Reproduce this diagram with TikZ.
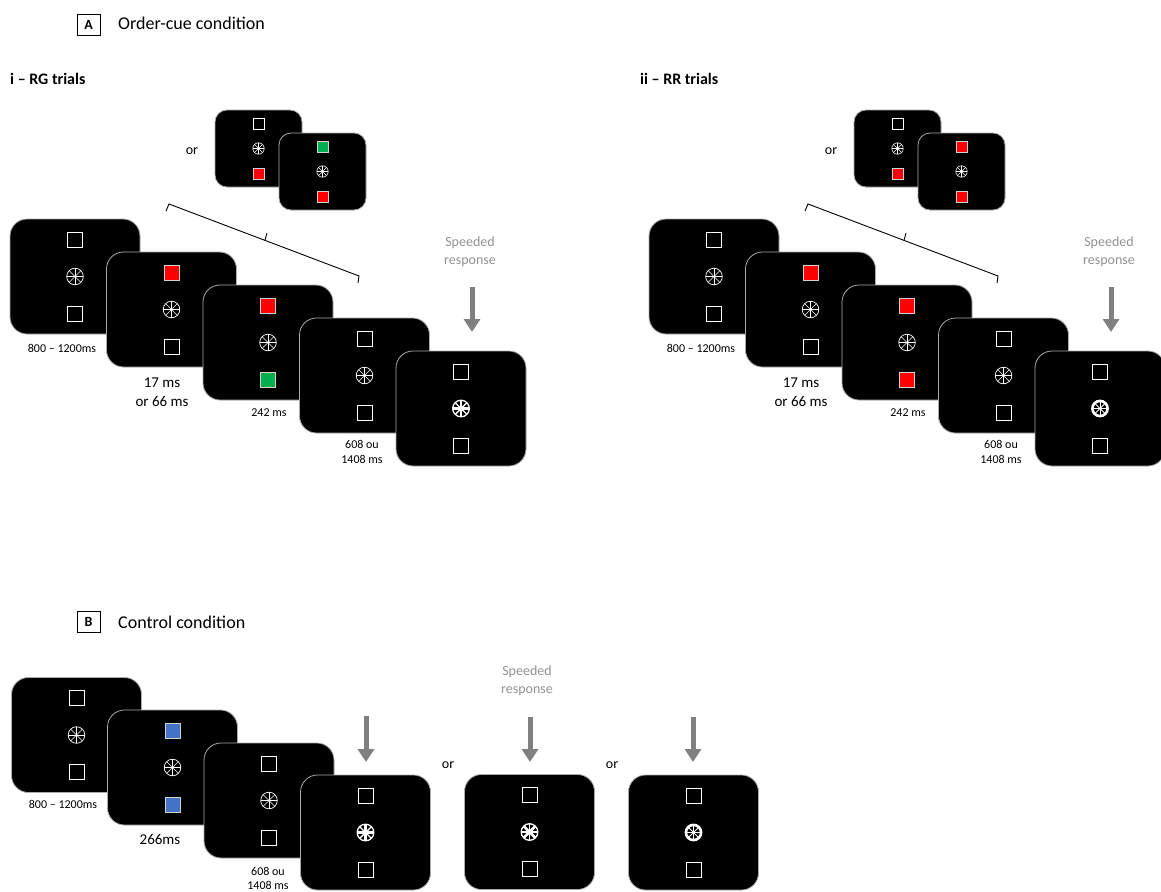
\documentclass[tikz,border=0pt]{standalone}
\usepackage{fontspec}
\setmainfont{Carlito}
\usetikzlibrary{arrows.meta}
\definecolor{cred}{RGB}{255,0,0}
\definecolor{cgreen}{RGB}{0,176,80}
\definecolor{cblue}{RGB}{68,114,196}
\definecolor{agray}{RGB}{128,128,128}
\definecolor{tgray}{RGB}{145,145,145}
\definecolor{edge}{RGB}{170,170,170}
\tikzset{
  bigscreen/.style={fill=black, draw=edge, line width=0.8pt, rounded corners=17pt,
    minimum width=130pt, minimum height=115pt, inner sep=0pt},
  smallscreen/.style={fill=black, draw=edge, line width=0.8pt, rounded corners=12pt,
    minimum width=87pt, minimum height=77pt, inner sep=0pt},
  sq/.style={draw=white, fill=black, line width=0.8pt, inner sep=0pt, minimum size=#1},
  colsq/.style={draw=gray!35, line width=0.8pt},
  resp/.style={draw=agray, line width=5pt, -{Triangle[width=16pt,length=13pt]}},
  lab/.style={inner sep=0pt, align=center, font=\fontsize{12}{15}\selectfont},
  biglab/.style={inner sep=0pt, align=center, font=\fontsize{15}{19}\selectfont},
  speed/.style={inner sep=0pt, align=center, text=tgray, font=\fontsize{14}{18}\selectfont},
  ortxt/.style={inner sep=0pt, font=\fontsize{14}{16}\selectfont},
  panelbox/.style={draw, line width=0.8pt, minimum width=23pt, minimum height=21pt,
    inner sep=0pt, font=\bfseries\fontsize{14}{14}\selectfont},
  paneltitle/.style={anchor=west, inner sep=0pt, font=\fontsize{18}{20}\selectfont},
  subtitle/.style={anchor=west, inner sep=0pt, font=\bfseries\fontsize{16}{18}\selectfont},
  brace/.style={draw=black, line width=0.9pt}
}
% #1 name, #2 screen style, #3 x, #4 y, #5 offset, #6 square size, #7 top opts, #8 bottom opts
\newcommand{\scrn}[8]{%
  \node[#2] (#1) at (#3,#4) {};
  \node[sq=#6,#7] (#1t) at ([yshift=#5pt]#1.center) {};
  \node[sq=#6,#8] (#1b) at ([yshift=-#5pt]#1.center) {};
  \coordinate (#1f) at (#1.center);
}
% #1 coordinate, #2 radius, #3 ring width, #4 plus spokes width, #5 diagonal spokes width
\newcommand{\fix}[5]{%
  \foreach \a in {0,90,180,270} \draw[white, line width=#4] (#1) -- ++(\a:#2);
  \foreach \a in {45,135,225,315} \draw[white, line width=#5] (#1) -- ++(\a:#2);
  \draw[white, line width=#3] (#1) circle[radius=#2];
}
\begin{document}
\begin{tikzpicture}[x=1pt,y=-1pt]
\useasboundingbox (0,0) rectangle (1161,891);

% ---------------- Panel A header
\node[panelbox] (boxA) at (88.5,24.5) {A};
\node[paneltitle] (titA) at (118,23) {Order-cue condition};
\node[subtitle] (subi) at (10,79) {i – RG trials};
\node[subtitle] (subii) at (640,79) {ii – RR trials};

% ---------------- Panel A, i
\node[ortxt] (ior) at (192,151) {or};
\scrn{ia}{smallscreen}{258.5}{148.5}{25}{11pt}{}{fill=cred,colsq}
\fix{iaf}{5.7pt}{0.6pt}{0.5pt}{0.5pt}
\scrn{ib}{smallscreen}{322.5}{171.5}{25}{11pt}{fill=cgreen,colsq}{fill=cred,colsq}
\fix{ibf}{5.7pt}{0.6pt}{0.5pt}{0.5pt}

\coordinate (ibr1) at (166,211);
\coordinate (ibr2) at (169,204);
\coordinate (ibr3) at (359,276);
\coordinate (ibr4) at (358,283);
\coordinate (ibrm) at (265,240.4);
\coordinate (ibrt) at (267,233);
\draw[brace] (ibr1) -- (ibr2) -- (ibr3) -- (ibr4);
\draw[brace] (ibrm) -- (ibrt);

\scrn{i1}{bigscreen}{75}{276.5}{37}{15pt}{}{}
\fix{i1f}{8.3pt}{0.7pt}{0.6pt}{0.6pt}
\scrn{i2}{bigscreen}{171.5}{309.5}{37}{15pt}{fill=cred,colsq}{}
\fix{i2f}{8.3pt}{0.7pt}{0.6pt}{0.6pt}
\scrn{i3}{bigscreen}{268}{342.5}{37}{15pt}{fill=cred,colsq}{fill=cgreen,colsq}
\fix{i3f}{8.3pt}{0.7pt}{0.6pt}{0.6pt}
\scrn{i4}{bigscreen}{364.5}{375.5}{37}{15pt}{}{}
\fix{i4f}{8.3pt}{0.7pt}{0.6pt}{0.6pt}
\scrn{i5}{bigscreen}{461}{408.5}{37}{15pt}{}{}
\fix{i5f}{8.3pt}{1.3pt}{2.8pt}{1.4pt}

\node[lab] (il1) at (62,348) {800 – 1200ms};
\node[biglab] (il2) at (162,392.5) {17 ms\\or 66 ms};
\node[lab] (il3) at (269,413) {242 ms};
\node[lab] (il4) at (362,451.5) {608 ou\\1408 ms};
\node[speed] (isp) at (470,252) {Speeded\\response};
\coordinate (iar1) at (472,287);
\coordinate (iar2) at (472,332);
\draw[resp] (iar1) -- (iar2);

% ---------------- Panel A, ii
\begin{scope}[xshift=639pt]
\node[ortxt] (jor) at (192,151) {or};
\scrn{ja}{smallscreen}{258.5}{148.5}{25}{11pt}{}{fill=cred,colsq}
\fix{jaf}{5.7pt}{0.6pt}{0.5pt}{0.5pt}
\scrn{jb}{smallscreen}{322.5}{171.5}{25}{11pt}{fill=cred,colsq}{fill=cred,colsq}
\fix{jbf}{5.7pt}{0.6pt}{0.5pt}{0.5pt}

\coordinate (jbr1) at (166,211);
\coordinate (jbr2) at (169,204);
\coordinate (jbr3) at (359,276);
\coordinate (jbr4) at (358,283);
\coordinate (jbrm) at (265,240.4);
\coordinate (jbrt) at (267,233);
\draw[brace] (jbr1) -- (jbr2) -- (jbr3) -- (jbr4);
\draw[brace] (jbrm) -- (jbrt);

\scrn{j1}{bigscreen}{75}{276.5}{37}{15pt}{}{}
\fix{j1f}{8.3pt}{0.7pt}{0.6pt}{0.6pt}
\scrn{j2}{bigscreen}{171.5}{309.5}{37}{15pt}{fill=cred,colsq}{}
\fix{j2f}{8.3pt}{0.7pt}{0.6pt}{0.6pt}
\scrn{j3}{bigscreen}{268}{342.5}{37}{15pt}{fill=cred,colsq}{fill=cred,colsq}
\fix{j3f}{8.3pt}{0.7pt}{0.6pt}{0.6pt}
\scrn{j4}{bigscreen}{364.5}{375.5}{37}{15pt}{}{}
\fix{j4f}{8.3pt}{0.7pt}{0.6pt}{0.6pt}
\scrn{j5}{bigscreen}{461}{408.5}{37}{15pt}{}{}
\fix{j5f}{7.6pt}{2.6pt}{0.9pt}{0.9pt}

\node[lab] (jl1) at (62,348) {800 – 1200ms};
\node[biglab] (jl2) at (162,392.5) {17 ms\\or 66 ms};
\node[lab] (jl3) at (269,413) {242 ms};
\node[lab] (jl4) at (362,451.5) {608 ou\\1408 ms};
\node[speed] (jsp) at (470,252) {Speeded\\response};
\coordinate (jar1) at (472,287);
\coordinate (jar2) at (472,332);
\draw[resp] (jar1) -- (jar2);
\end{scope}

% ---------------- Panel B
\node[panelbox] (boxB) at (88.5,622) {B};
\node[paneltitle] (titB) at (118,622) {Control condition};

\scrn{k1}{bigscreen}{76.5}{735}{37}{15pt}{}{}
\fix{k1f}{8.3pt}{0.7pt}{0.6pt}{0.6pt}
\scrn{k2}{bigscreen}{172.5}{767.5}{37}{15pt}{fill=cblue,colsq}{fill=cblue,colsq}
\fix{k2f}{8.3pt}{0.7pt}{0.6pt}{0.6pt}
\scrn{k3}{bigscreen}{269}{800.5}{37}{15pt}{}{}
\fix{k3f}{8.3pt}{0.7pt}{0.6pt}{0.6pt}
\scrn{k4}{bigscreen}{365.5}{832.5}{37}{15pt}{}{}
\fix{k4f}{8.3pt}{1.3pt}{2.8pt}{1.4pt}
\scrn{k5}{bigscreen}{529.5}{832}{37}{15pt}{}{}
\fix{k5f}{8.3pt}{1.3pt}{1.4pt}{2.8pt}
\scrn{k6}{bigscreen}{693.5}{832.5}{37}{15pt}{}{}
\fix{k6f}{7.6pt}{2.6pt}{0.9pt}{0.9pt}

\node[lab] (kl1) at (63,804) {800 – 1200ms};
\node[biglab] (kl2) at (160,839) {266ms};
\node[lab, font=\fontsize{12}{14}\selectfont] (kl3) at (268,878) {608 ou\\1408 ms};
\node[ortxt] (kor1) at (448,765) {or};
\node[ortxt] (kor2) at (612,765) {or};
\node[speed] (ksp) at (527,680.5) {Speeded\\response};

\coordinate (ka1) at (366,716);
\coordinate (ka2) at (366,762);
\draw[resp] (ka1) -- (ka2);
\coordinate (kb1) at (530,717);
\coordinate (kb2) at (530,762);
\draw[resp] (kb1) -- (kb2);
\coordinate (kc1) at (693,717);
\coordinate (kc2) at (693,762);
\draw[resp] (kc1) -- (kc2);
\end{tikzpicture}
\end{document}
